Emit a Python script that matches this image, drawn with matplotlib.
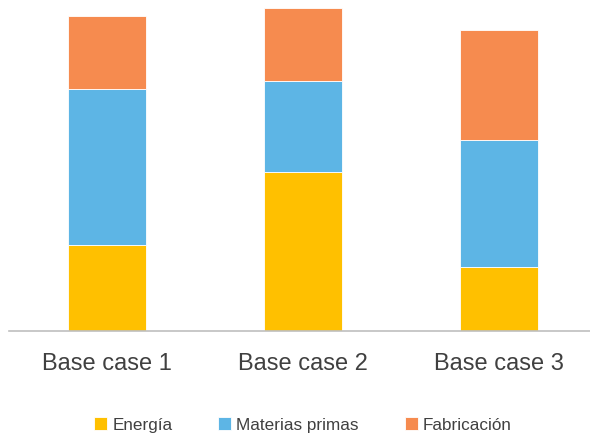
import matplotlib.pyplot as plt
import numpy as np

plt.rcParams['font.family'] = ['Liberation Sans', 'DejaVu Sans']

categories = ['Base case 1', 'Base case 2', 'Base case 3']
energia = [86, 159, 64]
materias = [156, 91, 127]
fabricacion = [73, 73, 110]

COLORS = {
    'energia': '#FFC000',
    'materias': '#5DB5E5',
    'fabricacion': '#F68B4F',
    'axis': '#BFBFBF',
    'text': '#404040',
}

fig = plt.figure(figsize=(5.9, 4.37), dpi=100)
ax = fig.add_axes([9 / 590, 106 / 437, 581 / 590, 331 / 437])

x = np.arange(len(categories))
w = 0.398
bottom2 = np.array(energia)
bottom3 = bottom2 + np.array(materias)

ax.bar(x, energia, w, color=COLORS['energia'], edgecolor='white', linewidth=0.6, label='Energía')
ax.bar(x, materias, w, bottom=bottom2, color=COLORS['materias'], edgecolor='white', linewidth=0.6,
       label='Materias primas')
ax.bar(x, fabricacion, w, bottom=bottom3, color=COLORS['fabricacion'], edgecolor='white', linewidth=0.6,
       label='Fabricación')

ax.set_xlim(-0.5, 2.464)
ax.set_ylim(0, 331)
ax.set_yticks([])
ax.set_xticks(x)
ax.set_xticklabels(categories, fontsize=17, color=COLORS['text'])
ax.tick_params(axis='x', length=0, pad=16)
for side in ['top', 'right', 'left']:
    ax.spines[side].set_visible(False)
ax.spines['bottom'].set_color(COLORS['axis'])
ax.spines['bottom'].set_linewidth(1.2)

fig.legend(loc='center', bbox_to_anchor=(303 / 590, 1 - 425 / 437), ncol=3, frameon=False,
           fontsize=12.3, handlelength=0.75, handleheight=0.75, handletextpad=0.3,
           columnspacing=2.7, labelcolor=COLORS['text'])

fig.savefig('out.png', dpi=100, facecolor='white')
